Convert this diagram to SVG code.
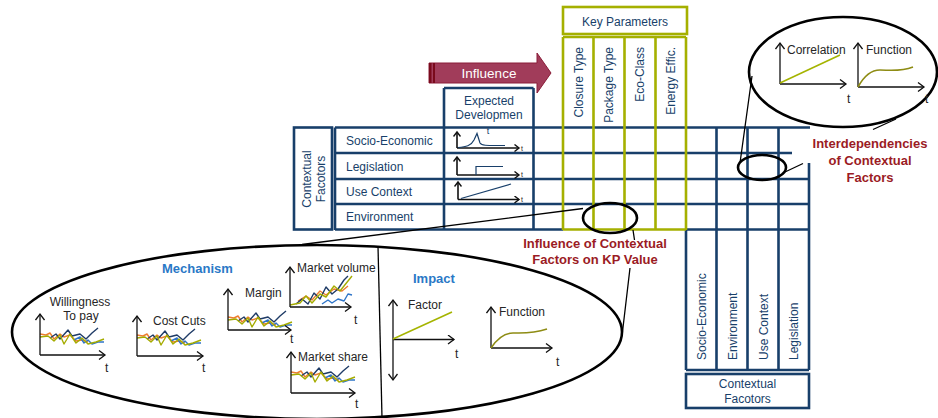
<svg xmlns="http://www.w3.org/2000/svg" xmlns:xlink="http://www.w3.org/1999/xlink" width="938" height="418" viewBox="0 0 938 418">
  <style>
    text { font-family: "Liberation Sans", Arial, sans-serif; }
    .nv { stroke: #183f6a; stroke-width: 2.6; fill: none; }
    .gr { stroke: #a5b000; stroke-width: 2.6; fill: none; }
    .lbl { font-size: 12px; fill: #183f6a; }
    .lblc { font-size: 12px; fill: #183f6a; text-anchor: middle; }
    .kp { font-size: 12px; fill: #183f6a; text-anchor: end; }
    .mini { font-size: 12px; fill: #262626; }
    .tt { font-size: 12px; fill: #262626; }
    .ts { font-size: 7px; fill: #262626; }
    .red { font-size: 13px; font-weight: bold; fill: #9b1b24; text-anchor: middle; }
    .blue { font-size: 13px; font-weight: bold; fill: #2a78c6; }
    .ell { stroke: #000; stroke-width: 2.6; fill: none; }
    .lead { stroke: #000; stroke-width: 1.3; fill: none; }
    .ax { stroke: #111; stroke-width: 1.3; fill: none; marker-end: url(#ah); }
    .axs { stroke: #111; stroke-width: 1.6; fill: none; marker-end: url(#ahs); }
    .cv { stroke: #183f6a; stroke-width: 1.2; fill: none; }
    .sq { fill: none; stroke-width: 1.4; stroke-linejoin: round; }
  </style>
  <defs>
    <marker id="ah" markerWidth="10" markerHeight="10" refX="7" refY="5" orient="auto-start-reverse" markerUnits="userSpaceOnUse">
      <path d="M1,0.5 L7,5 L1,9.5" fill="none" stroke="#111" stroke-width="1.3"/>
    </marker>
    <marker id="ahs" markerWidth="8" markerHeight="8" refX="5.5" refY="4" orient="auto" markerUnits="userSpaceOnUse">
      <path d="M1,0.5 L5.5,4 L1,7.5" fill="none" stroke="#111" stroke-width="1.4"/>
    </marker>
    <!-- fluctuating series, roughly level -->
    <g id="sqFlat">
      <polyline class="sq" stroke="#ed7d31" points="0,-21 6,-20 10,-22 14,-16 20,-21 24,-18 30,-20 36,-14 42,-15 48,-13"/>
      <polyline class="sq" stroke="#1f3b66" points="10,-17 16,-21 20,-16 28,-25 32,-19 40,-21 46,-16 52,-22 58,-27"/>
      <polyline class="sq" stroke="#2f75c8" points="34,-15 40,-18 44,-12 48,-15 52,-11 58,-13 64,-13"/>
      <polyline class="sq" stroke="#a5ac00" points="0,-18 8,-19 14,-14 20,-20 24,-11 30,-21 36,-12 42,-17 48,-11 56,-13 64,-16"/>
    </g>
    <!-- fluctuating series, rising -->
    <g id="sqRise">
      <polyline class="sq" stroke="#ed7d31" points="8,-6 16,-11 22,-7 30,-16 36,-12 44,-18 52,-16 58,-21"/>
      <polyline class="sq" stroke="#1f3b66" points="6,-3 12,-8 18,-3 24,-14 30,-8 36,-20 42,-13 48,-18 54,-27 58,-31"/>
      <polyline class="sq" stroke="#2f75c8" points="32,-3 38,-7 42,-4 48,-8 54,-6 58,-13 62,-12"/>
      <polyline class="sq" stroke="#a5ac00" points="0,-2 10,-4 16,-11 22,-4 30,-13 36,-10 44,-21 50,-16 58,-26 62,-31"/>
    </g>
  </defs>

  <rect width="938" height="418" fill="#fff"/>

  <!-- Influence arrow -->
  <g id="influence">
    <path d="M429,63 L537,63 L537,53 L551,73 L537,93 L537,83 L429,83 Z" fill="#a13c5a" stroke="#8a1d38" stroke-width="1"/>
    <rect x="429" y="63" width="2.5" height="20" fill="#7a0a1c"/>
    <rect x="433" y="63" width="2" height="20" fill="#7a0a1c"/>
    <text x="489" y="78" font-size="13.5" fill="#fff" text-anchor="middle">Influence</text>
  </g>

  <!-- Contextual factors table -->
  <g id="contextual-factors">
    <rect class="nv" x="294" y="127.5" width="38" height="102"/>
    <text class="lblc" transform="translate(311,179) rotate(-90)">Contextual</text>
    <text class="lblc" transform="translate(325,179) rotate(-90)">Facotors</text>
    <text class="lbl" x="346" y="145">Socio-Economic</text>
    <text class="lbl" x="346" y="171">Legislation</text>
    <text class="lbl" x="346" y="196">Use Context</text>
    <text class="lbl" x="346" y="221">Environment</text>
  </g>

  <!-- grid -->
  <g id="grid">
    <path class="nv" d="M335,127.5 H810 M335,153 H792 M335,179 H810 M335,204 H810 M335,229.5 H563 M686,229.5 H810"/>
    <path class="nv" d="M335,127.5 V230 M444,88 V230 M533.5,88 V230 M444,88 H533.5"/>
    <path class="nv" d="M716.5,127.5 V370 M747.5,127.5 V370 M778.5,127.5 V370 M809,163 V370 M686,229.5 V370 M686,370 H809"/>
  </g>

  <!-- Expected development column -->
  <g id="expected-development">
    <text class="lblc" x="489" y="105">Expected</text>
    <text class="lblc" x="489" y="119">Developmen</text>
    <text x="488" y="134" font-size="9" fill="#183f6a" text-anchor="middle">t</text>
    <path class="axs" d="M457,148 V132"/>
    <path class="axs" d="M457,148 H519"/>
    <path class="cv" d="M458,147.5 C466,147 471,146 474,140 L477,133.5 L480,143 C482,146 488,145.5 505,145.5"/>
    <text class="ts" x="521" y="151">t</text>
    <path class="axs" d="M457,175 V157"/>
    <path class="axs" d="M457,175 H519"/>
    <path class="cv" d="M476,175 V166.5 H503"/>
    <text class="ts" x="521" y="177">t</text>
    <path class="axs" d="M458,199.5 V182"/>
    <path class="axs" d="M458,199.5 H519"/>
    <path class="cv" d="M461,198.5 L511,184"/>
    <text class="ts" x="521" y="202">t</text>
  </g>

  <!-- Key parameters -->
  <g id="key-parameters">
    <rect class="gr" x="563" y="7" width="124" height="27"/>
    <text x="625" y="26" font-size="12" fill="#183f6a" text-anchor="middle">Key Parameters</text>
    <path class="gr" d="M563,37 H686 M563,229.5 H686 M563,37 V230 M593.5,37 V230 M624.5,37 V230 M655.5,37 V230 M686,37 V230"/>
    <text class="kp" transform="translate(582.5,47) rotate(-90)">Closure Type</text>
    <text class="kp" transform="translate(613,47) rotate(-90)">Package Type</text>
    <text class="kp" transform="translate(644,47) rotate(-90)">Eco-Class</text>
    <text class="kp" transform="translate(675,47) rotate(-90)">Energy Effic.</text>
  </g>

  <!-- Contextual factors, transposed -->
  <g id="contextual-columns">
    <text class="lbl" transform="translate(706,360) rotate(-90)">Socio-Economic</text>
    <text class="lbl" transform="translate(736.5,360) rotate(-90)">Environment</text>
    <text class="lbl" transform="translate(767.5,360) rotate(-90)">Use Context</text>
    <text class="lbl" transform="translate(798,360) rotate(-90)">Legislation</text>
    <rect class="nv" x="686" y="374" width="123" height="34"/>
    <text class="lblc" x="747.5" y="388">Contextual</text>
    <text class="lblc" x="747.5" y="403">Facotors</text>
  </g>

  <!-- Interdependencies detail -->
  <g id="interdependencies">
    <ellipse class="ell" cx="762" cy="167.5" rx="24" ry="12.5"/>
    <ellipse class="ell" cx="843" cy="72" rx="94" ry="55"/>
    <path class="lead" d="M752,76 L740,163 M785,172 L803,163.5 M873,129.5 L896,119"/>
    <path class="ax" d="M780,84 V43"/>
    <path class="ax" d="M780,84 H846"/>
    <path d="M780,83 L840,55" stroke="#a5b400" stroke-width="1.6" fill="none"/>
    <text class="tt" x="787" y="54">Correlation</text>
    <text class="tt" x="847" y="103">t</text>
    <path class="ax" d="M858,87 V43"/>
    <path class="ax" d="M858,87 H924"/>
    <path d="M858,87 C864,76 871,70 880,70 S900,72 913,67" stroke="#8e8c14" stroke-width="1.6" fill="none"/>
    <text class="tt" x="866" y="54">Function</text>
    <text class="tt" x="925" y="103">t</text>
    <text class="red" x="870" y="148">Interdependencies</text>
    <text class="red" x="870" y="165">of Contextual</text>
    <text class="red" x="870" y="182">Factors</text>
  </g>

  <!-- Influence of contextual factors on key parameter values -->
  <g id="influence-detail">
    <ellipse class="ell" cx="610" cy="218" rx="27" ry="15"/>
    <ellipse class="ell" cx="317" cy="332" rx="305" ry="87"/>
    <path class="lead" d="M583,208.5 L302,244.5 M633,230 L634.5,240 M630,268 L622,336"/>
    <path class="lead" d="M378,246 L382,418"/>
    <text class="red" x="595" y="248">Influence of Contextual</text>
    <text class="red" x="595" y="264">Factors on KP Value</text>

    <text class="blue" x="162" y="273">Mechanism</text>
    <text class="blue" x="413" y="283">Impact</text>

    <!-- Willingness to pay -->
    <text class="mini" x="80" y="306" text-anchor="middle">Willingness</text>
    <text class="mini" x="81" y="320" text-anchor="middle">To pay</text>
    <use xlink:href="#sqFlat" transform="translate(40,355)"/>
    <path class="ax" d="M40,355 V314"/>
    <path class="ax" d="M40,355 H105"/>
    <text class="tt" x="105" y="372">t</text>

    <!-- Cost cuts -->
    <text class="mini" x="153" y="325">Cost Cuts</text>
    <use xlink:href="#sqFlat" transform="translate(137,356)"/>
    <path class="ax" d="M137,356 V316"/>
    <path class="ax" d="M137,356 H203"/>
    <text class="tt" x="202" y="372">t</text>

    <!-- Margin -->
    <text class="mini" x="245" y="297">Margin</text>
    <use xlink:href="#sqFlat" transform="translate(228,338)"/>
    <path class="ax" d="M228,330 V289"/>
    <path class="ax" d="M228,330 H291"/>
    <text class="tt" x="290" y="343">t</text>

    <!-- Market volume -->
    <text class="mini" x="297" y="272">Market volume</text>
    <use xlink:href="#sqRise" transform="translate(290,307)"/>
    <path class="ax" d="M290,307 V267"/>
    <path class="ax" d="M290,307 H351"/>
    <text class="tt" x="354" y="324">t</text>

    <!-- Market share -->
    <text class="mini" x="298" y="361">Market share</text>
    <use xlink:href="#sqFlat" transform="translate(291,393)"/>
    <path class="ax" d="M291,393 V352"/>
    <path class="ax" d="M291,393 H355"/>
    <text class="tt" x="355" y="408">t</text>

    <!-- Impact: factor -->
    <path class="ax" d="M393,380 V300" marker-start="url(#ah)"/>
    <path class="ax" d="M393,339.5 H454"/>
    <path d="M393,339 L452,312" stroke="#a5b400" stroke-width="1.6" fill="none"/>
    <text class="mini" x="408" y="309">Factor</text>
    <text class="tt" x="455" y="358">t</text>

    <!-- Impact: function -->
    <path class="ax" d="M491,348 V307"/>
    <path class="ax" d="M491,348 H552"/>
    <path d="M491,348 C497,339 504,333 513,333 S532,334 547,329" stroke="#8e8c14" stroke-width="1.6" fill="none"/>
    <text class="mini" x="499" y="316">Function</text>
    <text class="tt" x="556" y="366">t</text>
  </g>
</svg>
